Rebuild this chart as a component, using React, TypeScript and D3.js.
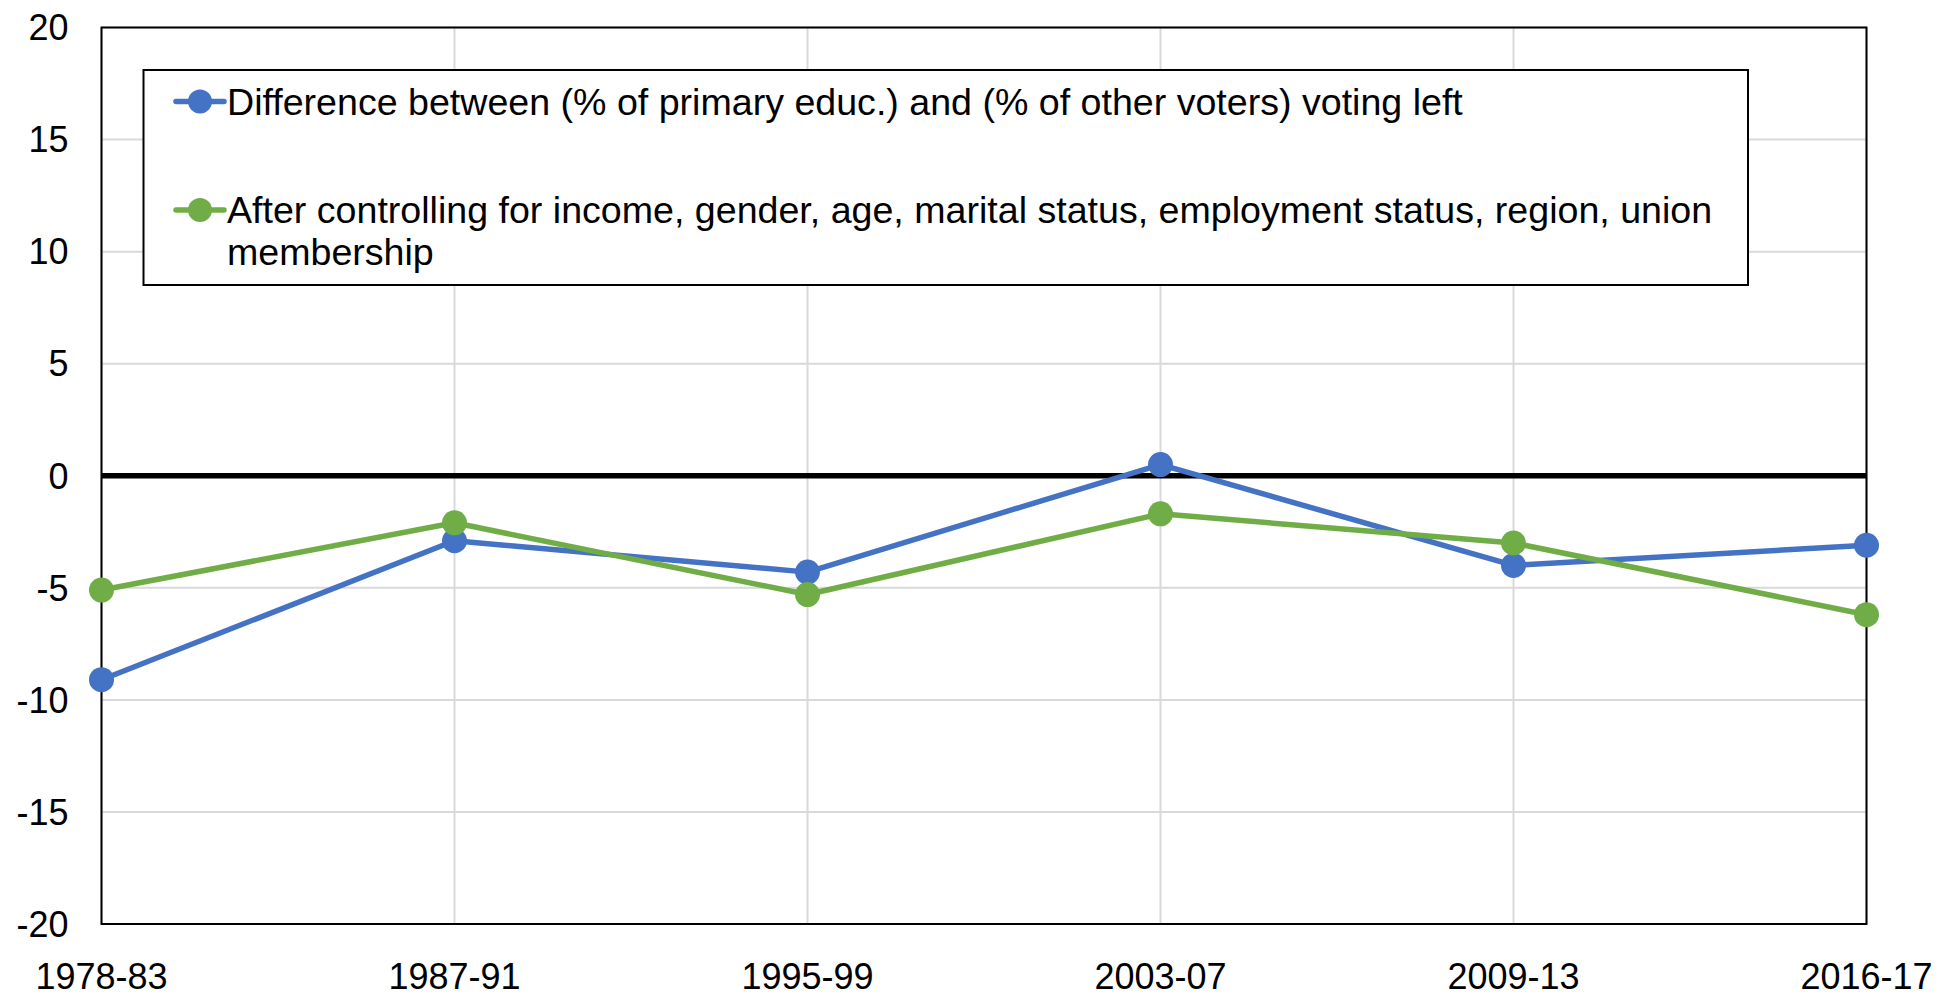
import React from "react";
import * as d3 from "d3";

const categories = ["1978-83", "1987-91", "1995-99", "2003-07", "2009-13", "2016-17"];
const seriesNames = [
  "Difference between (% of primary educ.) and (% of other voters) voting left",
  "After controlling for income, gender, age, marital status, employment status, region, union membership",
];
const legendLine2a = "After controlling for income, gender, age, marital status, employment status, region, union";
const legendLine2b = "membership";
const blueValues = [-9.1, -2.9, -4.3, 0.5, -4.0, -3.1];
const greenValues = [-5.1, -2.1, -5.3, -1.7, -3.0, -6.2];
const yTicks = [-20, -15, -10, -5, 0, 5, 10, 15, 20];

const W = 1939;
const H = 995;
const left = 101.5;
const right = 1866.5;
const top = 27.5;
const bottom = 924;
const FONT = "'Liberation Sans', Arial, sans-serif";
const BLUE = "#4472C4";
const GREEN = "#70AD47";
const TICK_FS = 36;
const LEG_FS = 37.6;

export default function App() {
  const x = d3.scalePoint<string>().domain(categories).range([left, right]);
  const y = d3.scaleLinear().domain([-20, 20]).range([bottom, top]);
  const line = d3
    .line<number>()
    .x((_, i) => x(categories[i]) as number)
    .y((d) => y(d));
  const series = [
    { name: seriesNames[0], values: blueValues, color: BLUE },
    { name: seriesNames[1], values: greenValues, color: GREEN },
  ];
  return (
    <svg
      width={W}
      height={H}
      style={{ position: "absolute", left: 0, top: 0, background: "#fff" }}
      fontFamily={FONT}
    >
      <rect x={0} y={0} width={W} height={H} fill="#fff" />
      {yTicks.map((t) => (
        <line key={"gy" + t} x1={left} x2={right} y1={y(t)} y2={y(t)} stroke="#d9d9d9" strokeWidth={2} />
      ))}
      {categories.map((c) => (
        <line key={"gx" + c} x1={x(c)} x2={x(c)} y1={top} y2={bottom} stroke="#d9d9d9" strokeWidth={2} />
      ))}
      <rect x={left} y={top} width={right - left} height={bottom - top} fill="none" stroke="#000" strokeWidth={2} />
      <line x1={left} x2={right} y1={y(0)} y2={y(0)} stroke="#000" strokeWidth={5.5} />
      {yTicks.map((t) => (
        <text key={"ty" + t} x={68.5} y={y(t)} dy="0.355em" textAnchor="end" fontSize={TICK_FS} fill="#000">
          {t}
        </text>
      ))}
      {categories.map((c) => (
        <text key={"tx" + c} x={x(c)} y={988.5} textAnchor="middle" fontSize={TICK_FS} fill="#000">
          {c}
        </text>
      ))}
      {series.map((s) => (
        <g key={s.name}>
          <path d={line(s.values) || ""} fill="none" stroke={s.color} strokeWidth={5.5} strokeLinejoin="round" />
          {s.values.map((v, i) => (
            <circle key={i} cx={x(categories[i])} cy={y(v)} r={12.5} fill={s.color} />
          ))}
        </g>
      ))}
      <g>
        <rect x={143.5} y={70} width={1604.5} height={215} fill="#fff" stroke="#000" strokeWidth={2} />
        <line x1={176} x2={224} y1={101.5} y2={101.5} stroke={BLUE} strokeWidth={5.5} strokeLinecap="round" />
        <circle cx={200} cy={101.5} r={12} fill={BLUE} />
        <text x={227} y={114.5} fontSize={LEG_FS} fill="#000">
          {seriesNames[0]}
        </text>
        <line x1={176} x2={224} y1={210} y2={210} stroke={GREEN} strokeWidth={5.5} strokeLinecap="round" />
        <circle cx={200} cy={210} r={12} fill={GREEN} />
        <text x={227} y={223} fontSize={LEG_FS} fill="#000">
          {legendLine2a}
        </text>
        <text x={227} y={265} fontSize={LEG_FS} fill="#000">
          {legendLine2b}
        </text>
      </g>
    </svg>
  );
}
